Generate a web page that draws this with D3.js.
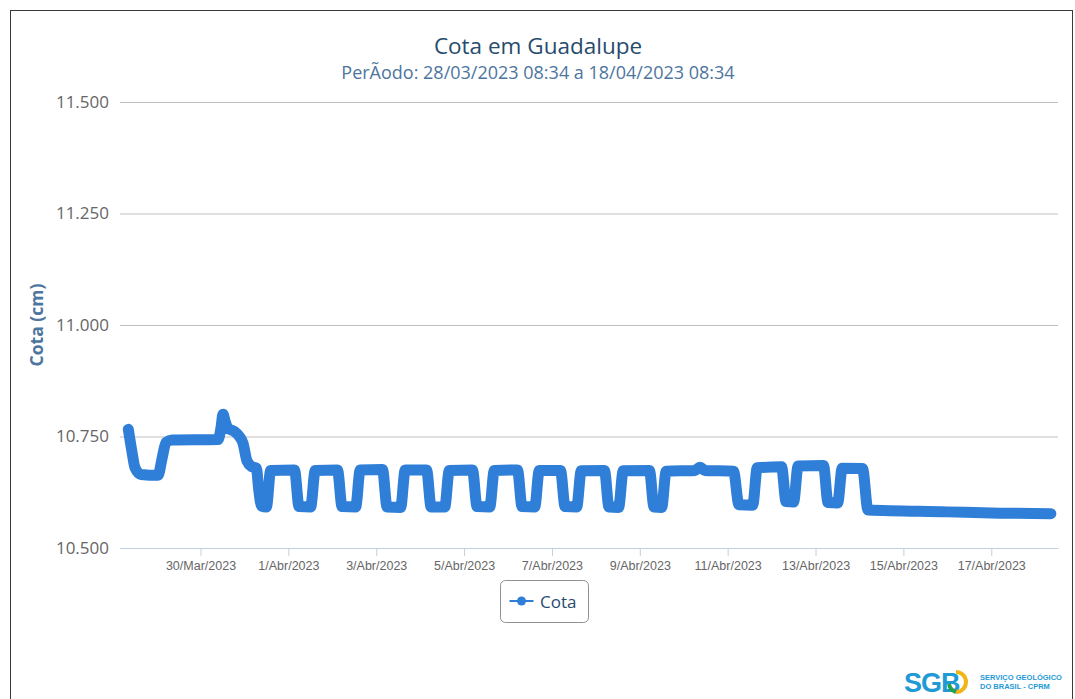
<!DOCTYPE html>
<html>
<head>
<meta charset="utf-8">
<script src="https://cdn.jsdelivr.net/npm/d3@7"></script>
<style>
  body { margin: 0; background: #fff; }
  svg { display: block; }
</style>
</head>
<body>
<div id="chart"></div>
<script>
// Readings of the Cota series (dd/mm/yyyy HH:MM, value in the chart's units)
const times = [
  '28/03/2023 08:34', '28/03/2023 10:35', '28/03/2023 12:13', '28/03/2023 15:30',
  '29/03/2023 00:47', '29/03/2023 02:58', '29/03/2023 05:09', '29/03/2023 08:26',
  '30/03/2023 09:34', '30/03/2023 11:12', '30/03/2023 12:17', '30/03/2023 13:23',
  '30/03/2023 15:01', '30/03/2023 18:18', '30/03/2023 21:35', '30/03/2023 23:13',
  '31/03/2023 01:24', '31/03/2023 04:08', '31/03/2023 06:30', '31/03/2023 07:50',
  '31/03/2023 09:20', '31/03/2023 12:00', '31/03/2023 14:20',
  '01/04/2023 03:20', '01/04/2023 05:50', '01/04/2023 12:10', '01/04/2023 14:40',
  '02/04/2023 02:50', '02/04/2023 05:20', '02/04/2023 12:45', '02/04/2023 15:15',
  '03/04/2023 03:25', '03/04/2023 05:55', '03/04/2023 13:20', '03/04/2023 15:50',
  '04/04/2023 03:30', '04/04/2023 06:00', '04/04/2023 13:25', '04/04/2023 15:55',
  '05/04/2023 04:35', '05/04/2023 07:05', '05/04/2023 14:00', '05/04/2023 16:30',
  '06/04/2023 05:10', '06/04/2023 07:40', '06/04/2023 14:35', '06/04/2023 17:05',
  '07/04/2023 04:40', '07/04/2023 07:10', '07/04/2023 13:30', '07/04/2023 16:00',
  '08/04/2023 04:40', '08/04/2023 07:10', '08/04/2023 12:25', '08/04/2023 14:55',
  '09/04/2023 05:15', '09/04/2023 07:45', '09/04/2023 11:55', '09/04/2023 14:25',
  '10/04/2023 06:10', '10/04/2023 08:53', '10/04/2023 11:37',
  '11/04/2023 03:10', '11/04/2023 06:10', '11/04/2023 13:40', '11/04/2023 16:10',
  '12/04/2023 05:25', '12/04/2023 07:55', '12/04/2023 12:00', '12/04/2023 14:30',
  '13/04/2023 04:20', '13/04/2023 06:50', '13/04/2023 12:05', '13/04/2023 14:35',
  '14/04/2023 01:40', '14/04/2023 04:40', '15/04/2023 23:50', '17/04/2023 04:47',
  '18/04/2023 08:34'
]
const cota = [
  10.766, 10.715, 10.680, 10.665,
  10.663, 10.700, 10.737, 10.742,
  10.743, 10.770, 10.800, 10.785,
  10.768, 10.762, 10.748, 10.735,
  10.695, 10.682, 10.679, 10.630,
  10.594, 10.592, 10.674,
  10.675, 10.593, 10.592, 10.674,
  10.675, 10.593, 10.592, 10.675,
  10.676, 10.592, 10.591, 10.675,
  10.675, 10.592, 10.592, 10.674,
  10.675, 10.593, 10.592, 10.674,
  10.675, 10.593, 10.592, 10.674,
  10.674, 10.593, 10.592, 10.673,
  10.674, 10.592, 10.591, 10.673,
  10.674, 10.592, 10.591, 10.672,
  10.674, 10.681, 10.674,
  10.672, 10.597, 10.596, 10.680,
  10.682, 10.604, 10.603, 10.684,
  10.685, 10.602, 10.601, 10.679,
  10.678, 10.585, 10.581, 10.578,
  10.577
]

// Axis settings
const xExtent = ['28/03/2023 04:01', '18/04/2023 12:28']
const xTicks = ['30/03/2023', '01/04/2023', '03/04/2023', '05/04/2023', '07/04/2023',
  '09/04/2023', '11/04/2023', '13/04/2023', '15/04/2023', '17/04/2023']
const yTicks = [10.5, 10.75, 11.0, 11.25, 11.5]
const yExtent = [10.5, 11.5]

const titleText = 'Cota em Guadalupe'
const subtitleText = 'PerÃodo: 28/03/2023 08:34 a 18/04/2023 08:34'
const yTitle = 'Cota (cm)'
const seriesName = 'Cota'

/**
 * Dimensions of the whole picture and of the plot area
 */
const W = 1075
const H = 699
const margin = { top: 102, right: 17, bottom: 151, left: 120 }
const width = W - margin.left - margin.right
const height = H - margin.top - margin.bottom

const sans = "'Open Sans', 'Noto Sans', sans-serif"
const arial = "'Liberation Sans', Arial, sans-serif"

const parseTime = d3.timeParse('%d/%m/%Y %H:%M')
const parseDay = d3.timeParse('%d/%m/%Y')

const ptBR = d3.timeFormatLocale({
  dateTime: '%A, %e de %B de %Y. %X',
  date: '%d/%m/%Y',
  time: '%H:%M:%S',
  periods: ['AM', 'PM'],
  days: ['Domingo', 'Segunda', 'Terça', 'Quarta', 'Quinta', 'Sexta', 'Sábado'],
  shortDays: ['Dom', 'Seg', 'Ter', 'Qua', 'Qui', 'Sex', 'Sáb'],
  months: ['Janeiro', 'Fevereiro', 'Março', 'Abril', 'Maio', 'Junho', 'Julho',
    'Agosto', 'Setembro', 'Outubro', 'Novembro', 'Dezembro'],
  shortMonths: ['Jan', 'Fev', 'Mar', 'Abr', 'Mai', 'Jun', 'Jul', 'Ago', 'Set', 'Out', 'Nov', 'Dez']
})

const data = times.map(function (t, i) {
  return { date: parseTime(t), value: cota[i] }
})

const root = d3.select('#chart')
  .append('svg')
  .attr('width', W)
  .attr('height', H)

root.append('rect')
  .attr('width', W)
  .attr('height', H)
  .attr('fill', '#fff')

// outer frame of the screenshot
root.append('rect')
  .attr('x', 10.5)
  .attr('y', 10.5)
  .attr('width', W - 13)
  .attr('height', H + 10)
  .attr('fill', 'none')
  .attr('stroke', '#3a3a3a')
  .attr('stroke-width', 1)

// titles
root.append('text')
  .attr('x', 538)
  .attr('y', 53.5)
  .attr('text-anchor', 'middle')
  .attr('font-family', sans)
  .attr('font-size', 22.5)
  .attr('fill', '#274b6d')
  .text(titleText)

root.append('text')
  .attr('x', 538)
  .attr('y', 78.5)
  .attr('text-anchor', 'middle')
  .attr('font-family', sans)
  .attr('font-size', 18)
  .attr('fill', '#4d759e')
  .text(subtitleText)

const svg = root.append('g')
  .attr('transform', 'translate(' + margin.left + ',' + margin.top + ')')

// scales
const x = d3.scaleTime()
  .domain(xExtent.map(parseTime))
  .range([0, width])

const y = d3.scaleLinear()
  .domain(yExtent)
  .range([height, 0])

// Y axis with grid lines
const yAxis = svg.append('g')
  .call(d3.axisLeft(y)
    .tickValues(yTicks)
    .tickSize(-width)
    .tickPadding(11)
    .tickFormat(d3.format('.3f')))
yAxis.select('.domain').remove()
yAxis.selectAll('.tick line')
  .attr('stroke', '#c0c0c0')
yAxis.selectAll('.tick text')
  .attr('font-family', sans)
  .attr('font-size', 17)
  .attr('fill', '#666')

svg.append('text')
  .attr('transform', 'rotate(-90)')
  .attr('x', -height / 2)
  .attr('y', 37 - margin.left)
  .attr('dy', '0.35em')
  .attr('text-anchor', 'middle')
  .attr('font-family', sans)
  .attr('font-size', 17.5)
  .attr('font-weight', 'bold')
  .attr('fill', '#4d759e')
  .text(yTitle)

// X axis
const xAxis = svg.append('g')
  .attr('transform', 'translate(0,' + height + ')')
  .call(d3.axisBottom(x)
    .tickValues(xTicks.map(parseDay))
    .tickSize(8)
    .tickSizeOuter(0)
    .tickPadding(5.5)
    .tickFormat(ptBR.format('%-d/%b/%Y')))
xAxis.select('.domain')
  .attr('stroke', '#c0d0e0')
xAxis.selectAll('.tick line')
  .attr('stroke', '#c0d0e0')
xAxis.selectAll('.tick text')
  .attr('font-family', arial)
  .attr('font-size', 12.5)
  .attr('fill', '#666')

// the series
svg.append('path')
  .datum(data)
  .attr('fill', 'none')
  .attr('stroke', '#2f7ed8')
  .attr('stroke-width', 11)
  .attr('stroke-linejoin', 'round')
  .attr('stroke-linecap', 'round')
  .attr('d', d3.line()
    .curve(d3.curveMonotoneX)
    .x(function (d) { return x(d.date) })
    .y(function (d) { return y(d.value) }))

// legend
const legend = root.append('g')
  .attr('transform', 'translate(500.5,580.5)')
legend.append('rect')
  .attr('width', 88)
  .attr('height', 42)
  .attr('rx', 5)
  .attr('fill', '#fff')
  .attr('stroke', '#909090')
legend.append('line')
  .attr('x1', 9)
  .attr('x2', 33)
  .attr('y1', 20.5)
  .attr('y2', 20.5)
  .attr('stroke', '#2f7ed8')
  .attr('stroke-width', 2)
legend.append('circle')
  .attr('cx', 21)
  .attr('cy', 20.5)
  .attr('r', 4.5)
  .attr('fill', '#2f7ed8')
legend.append('text')
  .attr('x', 39.5)
  .attr('y', 27)
  .attr('font-family', sans)
  .attr('font-size', 17)
  .attr('fill', '#274b6d')
  .text(seriesName)

// SGB logo, bottom right
const logo = root.append('g')
  .attr('transform', 'translate(904,670)')
logo.append('text')
  .attr('x', 0)
  .attr('y', 22)
  .attr('font-family', arial)
  .attr('font-weight', 'bold')
  .attr('font-size', 27)
  .attr('letter-spacing', -1)
  .attr('fill', '#1f9ad6')
  .text('SGB')
logo.append('path')
  .attr('d', 'M52,2 A10,10 0 1,1 52,22')
  .attr('fill', 'none')
  .attr('stroke', '#f2b417')
  .attr('stroke-width', 4)
logo.append('path')
  .attr('d', 'M52,22 A10,10 0 0,1 45,14')
  .attr('fill', 'none')
  .attr('stroke', '#27a04a')
  .attr('stroke-width', 4)
logo.append('text')
  .attr('x', 76)
  .attr('y', 10)
  .attr('font-family', arial)
  .attr('font-weight', 'bold')
  .attr('font-size', 7.5)
  .attr('fill', '#1f9ad6')
  .text('SERVIÇO GEOLÓGICO')
logo.append('text')
  .attr('x', 76)
  .attr('y', 19)
  .attr('font-family', arial)
  .attr('font-weight', 'bold')
  .attr('font-size', 7.5)
  .attr('fill', '#1f9ad6')
  .text('DO BRASIL - CPRM')
</script>
</body>
</html>
